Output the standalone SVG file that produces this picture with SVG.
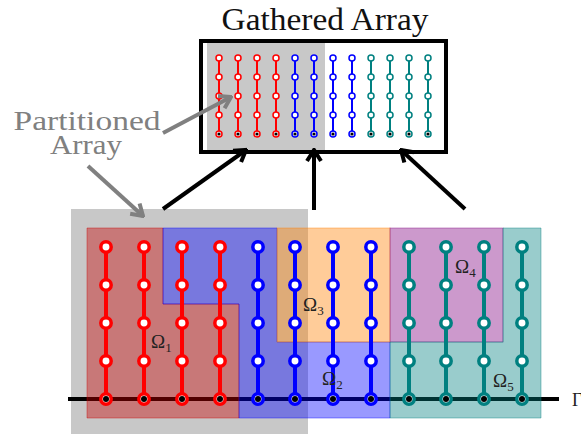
<svg xmlns="http://www.w3.org/2000/svg" width="581" height="434" viewBox="0 0 581 434">
<defs>
<style>
.serif{font-family:"Liberation Serif","DejaVu Serif",serif;}
.reg{fill-opacity:0.4;stroke-opacity:0.4;stroke-width:1;}
.bl{stroke-width:4;fill:none;stroke-linecap:butt;}
.bn{stroke-width:3.5;fill:#fff;}
.sl{stroke-width:2;fill:none;}
.sn{stroke-width:1.5;fill:#fff;}
.R{stroke:#ff0000;} .B{stroke:#0000ff;} .T{stroke:#008080;}
.om{font-size:19px;fill:#222;}
.sub{font-size:13px;}
</style>
<marker id="ah" viewBox="-14 -9 16 18" markerWidth="16" markerHeight="18" refX="0" refY="0" orient="auto" markerUnits="userSpaceOnUse">
<path d="M-11,-7 L0,0 L-11,7" fill="none" stroke="#000" stroke-width="4" stroke-linejoin="miter"/>
</marker>
<marker id="gh" viewBox="-14 -9 16 18" markerWidth="16" markerHeight="18" refX="0" refY="0" orient="auto" markerUnits="userSpaceOnUse">
<path d="M-11,-7 L0,0 L-11,7" fill="none" stroke="#808080" stroke-width="4"/>
</marker>
<g id="bcol">
<line class="bl" x1="0" y1="247" x2="0" y2="399"/>
<circle class="bn" cx="0" cy="247" r="5.2"/>
<circle class="bn" cx="0" cy="285" r="5.2"/>
<circle class="bn" cx="0" cy="323" r="5.2"/>
<circle class="bn" cx="0" cy="361" r="5.2"/>
<circle class="bn" cx="0" cy="399" r="5.2"/>
<circle cx="0" cy="399" r="3" fill="#000" stroke="none"/>
</g>
<g id="scol">
<line class="sl" x1="0" y1="58" x2="0" y2="134"/>
<circle class="sn" cx="0" cy="58" r="3"/>
<circle class="sn" cx="0" cy="77" r="3"/>
<circle class="sn" cx="0" cy="96" r="3"/>
<circle class="sn" cx="0" cy="115" r="3"/>
<circle class="sn" cx="0" cy="134" r="3"/>
<circle cx="0" cy="134" r="1.6" fill="#000" stroke="none"/>
</g>
</defs>
<rect width="581" height="434" fill="#fff"/>

<!-- Title -->
<text class="serif" x="325" y="30" font-size="31" text-anchor="middle" textLength="207" lengthAdjust="spacingAndGlyphs" fill="#111">Gathered Array</text>

<!-- Gathered array box -->
<g id="gathered">
<rect x="207" y="43" width="118" height="107" fill="#c8c8c8"/>
<rect x="201" y="41" width="245" height="111" fill="none" stroke="#000" stroke-width="4"/>
<use href="#scol" x="219" class="R"/>
<use href="#scol" x="238" class="R"/>
<use href="#scol" x="257" class="R"/>
<use href="#scol" x="276" class="R"/>
<use href="#scol" x="295" class="B"/>
<use href="#scol" x="314" class="B"/>
<use href="#scol" x="333" class="B"/>
<use href="#scol" x="352" class="B"/>
<use href="#scol" x="371" class="T"/>
<use href="#scol" x="390" class="T"/>
<use href="#scol" x="409" class="T"/>
<use href="#scol" x="428" class="T"/>
</g>

<!-- Partitioned array label -->
<g id="label-partitioned">
<text class="serif" x="87" y="130" font-size="27" text-anchor="middle" fill="#808080" textLength="147" lengthAdjust="spacingAndGlyphs">Partitioned</text>
<text class="serif" x="86" y="154" font-size="27" text-anchor="middle" fill="#808080" textLength="72" lengthAdjust="spacingAndGlyphs">Array</text>
</g>

<!-- Partitioned array -->
<g id="partitioned">
<rect x="71" y="209" width="237" height="225" fill="#c8c8c8"/>
<line x1="68" y1="399" x2="559" y2="399" stroke="#000" stroke-width="4"/>
<g id="omega1"><polygon class="reg" points="87,228 163,228 163,304 239,304 239,418 87,418" fill="#c80000" stroke="#c80000"/></g>
<g id="omega2"><polygon class="reg" points="163,228 277,228 277,342 390,342 390,418 239,418 239,304 163,304" fill="#0000ff" stroke="#0000ff"/></g>
<g id="omega3"><rect class="reg" x="277" y="228" width="113" height="114" fill="#ff8000" stroke="#ff8000"/></g>
<g id="omega4"><rect class="reg" x="390" y="228" width="113" height="114" fill="#800080" stroke="#800080"/></g>
<g id="omega5"><polygon class="reg" points="503,228 541,228 541,418 390,418 390,342 503,342" fill="#008080" stroke="#008080"/></g>
<use href="#bcol" x="106" class="R"/>
<use href="#bcol" x="144" class="R"/>
<use href="#bcol" x="182" class="R"/>
<use href="#bcol" x="220" class="R"/>
<use href="#bcol" x="258" class="B"/>
<use href="#bcol" x="295" class="B"/>
<use href="#bcol" x="333" class="B"/>
<use href="#bcol" x="371" class="B"/>
<use href="#bcol" x="409" class="T"/>
<use href="#bcol" x="446" class="T"/>
<use href="#bcol" x="484" class="T"/>
<use href="#bcol" x="522" class="T"/>
<text class="serif om" x="151" y="348">Ω<tspan class="sub" dy="4">1</tspan></text>
<text class="serif om" x="322" y="385">Ω<tspan class="sub" dy="4">2</tspan></text>
<text class="serif om" x="303" y="311">Ω<tspan class="sub" dy="4">3</tspan></text>
<text class="serif om" x="455" y="273">Ω<tspan class="sub" dy="4">4</tspan></text>
<text class="serif om" x="493" y="387">Ω<tspan class="sub" dy="4">5</tspan></text>
<text class="serif" x="572" y="406" font-size="18" fill="#222">Γ</text>
</g>

<!-- Connectors -->
<g id="connectors">
<line x1="163" y1="209" x2="246" y2="150" stroke="#000" stroke-width="4" marker-end="url(#ah)"/>
<line x1="314" y1="210" x2="314" y2="150" stroke="#000" stroke-width="4" marker-end="url(#ah)"/>
<line x1="465" y1="209" x2="401" y2="150" stroke="#000" stroke-width="4" marker-end="url(#ah)"/>
<line x1="163" y1="133" x2="231" y2="97" stroke="#808080" stroke-width="4" marker-end="url(#gh)"/>
<line x1="88" y1="166" x2="143" y2="216" stroke="#808080" stroke-width="4" marker-end="url(#gh)"/>
</g>
</svg>
